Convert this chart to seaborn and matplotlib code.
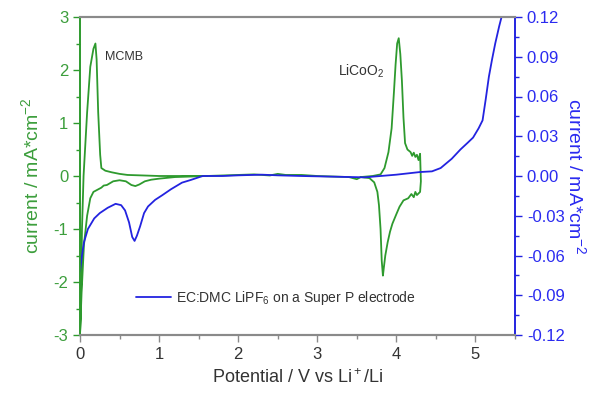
import matplotlib
matplotlib.use("Agg")
import matplotlib.pyplot as plt
from matplotlib.ticker import MultipleLocator, FormatStrFormatter
import seaborn as sns
import pandas as pd

# ---- data: green CV (MCMB / LiCoO2), left axis, mA/cm2 ----
cv_potential = [1.6, 1.4, 1.2, 1.0, 0.9, 0.82, 0.75, 0.7, 0.65, 0.58, 0.5, 0.42, 0.34, 0.3,
                0.27, 0.22, 0.17, 0.13, 0.09, 0.05, 0.02, 0.0,
                0.01, 0.025, 0.045, 0.09, 0.13, 0.17, 0.195, 0.21, 0.23, 0.255, 0.27,
                0.32, 0.4, 0.5, 0.6, 0.8, 1.0, 1.2, 1.6, 2.0, 2.2, 2.4, 2.5, 2.6, 2.8,
                3.0, 3.2, 3.4, 3.5, 3.55, 3.7, 3.8, 3.85, 3.9, 3.94, 3.97, 3.99, 4.01,
                4.03, 4.05, 4.07, 4.09, 4.11, 4.14, 4.18, 4.2, 4.22, 4.24, 4.26, 4.28, 4.3, 4.31,
                4.3, 4.26, 4.24, 4.22, 4.19, 4.15, 4.09, 4.04, 4.0, 3.95, 3.92, 3.89, 3.86, 3.84,
                3.83, 3.815, 3.8, 3.78, 3.76, 3.72, 3.66, 3.55]
cv_current = [0.0, -0.01, -0.02, -0.05, -0.07, -0.1, -0.16, -0.19, -0.17, -0.1, -0.08, -0.1,
              -0.17, -0.18, -0.22, -0.26, -0.3, -0.42, -0.75, -1.3, -2.2, -3.0,
              -2.6, -1.0, 0.0, 1.2, 2.06, 2.4, 2.5, 2.2, 1.2, 0.4, 0.15,
              0.1, 0.07, 0.04, 0.02, 0.01, 0.0, 0.0, 0.0, 0.02, 0.03, 0.01, 0.04, 0.02, 0.02,
              0.0, -0.01, -0.02, -0.06, -0.02, 0.0, 0.03, 0.15, 0.45, 0.9, 1.6, 2.1, 2.5,
              2.6, 2.3, 1.8, 1.1, 0.62, 0.5, 0.45, 0.38, 0.44, 0.36, 0.4, 0.3, 0.42, -0.1,
              -0.3, -0.36, -0.3, -0.4, -0.34, -0.42, -0.46, -0.58, -0.72, -0.9, -1.05, -1.25, -1.5, -1.75,
              -1.88, -1.6, -1.0, -0.55, -0.3, -0.12, -0.04, -0.02]

# ---- data: blue LSV (EC:DMC LiPF6 on Super P), right axis, mA/cm2 ----
lsv_potential = [0.0, 0.02, 0.05, 0.1, 0.18, 0.25, 0.35, 0.45, 0.52, 0.57, 0.62, 0.66, 0.69,
                 0.72, 0.76, 0.81, 0.86, 0.95, 1.04, 1.15, 1.29, 1.4, 1.55, 1.8, 2.0, 2.3,
                 2.5, 2.8, 3.2, 3.6, 3.8, 4.0, 4.3, 4.45, 4.56, 4.7, 4.81, 4.9, 4.97, 5.04,
                 5.09, 5.13, 5.17, 5.21, 5.25, 5.3, 5.33]
lsv_current = [-0.072, -0.062, -0.05, -0.04, -0.032, -0.028, -0.024, -0.021, -0.022, -0.026,
               -0.035, -0.046, -0.049, -0.045, -0.038, -0.028, -0.023, -0.018, -0.0145, -0.01,
               -0.005, -0.003, 0.0, 0.0, 0.0005, 0.001, 0.0005, 0.0, -0.0005, -0.001, 0.0,
               0.001, 0.003, 0.0035, 0.006, 0.013, 0.02, 0.025, 0.029, 0.036, 0.042, 0.058,
               0.075, 0.088, 0.1, 0.113, 0.12]

left_ticks = [-3, -2, -1, 0, 1, 2, 3]
right_ticks = [-0.12, -0.09, -0.06, -0.03, 0.00, 0.03, 0.06, 0.09, 0.12]
x_ticks = [0, 1, 2, 3, 4, 5]

GREEN = "#2e9a2e"
GREEN_TXT = "#3c9e3c"
BLUE = "#2323e0"
BLUE_TXT = "#2a2af0"
GRAY = "#8a8a8a"

sns.set_style("white")
plt.rcParams["font.family"] = ["Liberation Sans", "DejaVu Sans"]
plt.rcParams["mathtext.fontset"] = "custom"
plt.rcParams["mathtext.rm"] = "Liberation Sans"
plt.rcParams["mathtext.it"] = "Liberation Sans"
plt.rcParams["axes.unicode_minus"] = False

fig = plt.figure(figsize=(5.94, 3.98), dpi=100)
ax = fig.add_axes([80 / 594, 1 - 335 / 398, 435 / 594, 318 / 398])
ax2 = ax.twinx()

cv_df = pd.DataFrame({"potential": cv_potential, "current": cv_current})
lsv_df = pd.DataFrame({"potential": lsv_potential, "current": lsv_current})

sns.lineplot(data=cv_df, x="potential", y="current", sort=False, estimator=None,
             color=GREEN, lw=1.3, ax=ax, legend=False)
sns.lineplot(data=lsv_df, x="potential", y="current", sort=False, estimator=None,
             color=BLUE, lw=1.3, ax=ax2, label="EC:DMC LiPF$_6$ on a Super P electrode")

ax.set_xlim(0, 5.5)
ax.set_ylim(-3, 3)
ax2.set_ylim(-0.12, 0.12)

ax.set_xticks(x_ticks)
ax.xaxis.set_minor_locator(MultipleLocator(0.5))
ax.set_yticks(left_ticks)
ax.yaxis.set_minor_locator(MultipleLocator(0.5))
ax2.set_yticks(right_ticks)
ax2.yaxis.set_minor_locator(MultipleLocator(0.015))
ax2.yaxis.set_major_formatter(FormatStrFormatter("%.2f"))

ax.tick_params(axis="x", which="major", direction="out", length=5, width=1, colors=GRAY,
               labelcolor="#333333", labelsize=12, bottom=True)
ax.tick_params(axis="x", which="minor", direction="out", length=3, width=1, colors=GRAY, bottom=True)
ax.tick_params(axis="y", which="major", direction="out", length=5, width=1, colors=GREEN,
               labelcolor=GREEN_TXT, labelsize=12, left=True)
ax.tick_params(axis="y", which="minor", direction="out", length=3, width=1, colors=GREEN, left=True)
ax2.tick_params(axis="y", which="major", direction="out", length=5, width=1, colors=BLUE,
                labelcolor=BLUE_TXT, labelsize=12, right=True)
ax2.tick_params(axis="y", which="minor", direction="out", length=3, width=1, colors=BLUE, right=True)

for a in (ax, ax2):
    a.spines["top"].set_color(GRAY)
    a.spines["bottom"].set_color(GRAY)
    a.spines["top"].set_linewidth(1.5)
    a.spines["bottom"].set_linewidth(1.5)
    a.spines["left"].set_color(GREEN)
    a.spines["right"].set_color(BLUE)
    a.spines["left"].set_linewidth(1.2)
    a.spines["right"].set_linewidth(1.2)

ax.set_xlabel("Potential / V vs Li$^+$/Li", fontsize=13, color="#333333", labelpad=5)
ax.set_ylabel("current / mA*cm$^{-2}$", fontsize=14, color=GREEN_TXT, labelpad=8)
ax2.set_ylabel("current / mA*cm$^{-2}$", fontsize=14, color=BLUE_TXT, rotation=270, labelpad=16)

ax.text(0.32, 2.25, "MCMB", fontsize=9, color="#333333", va="center", ha="left")
ax.text(3.26, 1.98, "LiCoO$_2$", fontsize=10, color="#333333", va="center", ha="left")

leg = ax2.legend(loc="lower left", bbox_to_anchor=(0.1, 0.05), frameon=False,
                 fontsize=10, handlelength=2.5, handletextpad=0.35)
for t in leg.get_texts():
    t.set_color("#333333")

fig.savefig("out.png", dpi=100)
